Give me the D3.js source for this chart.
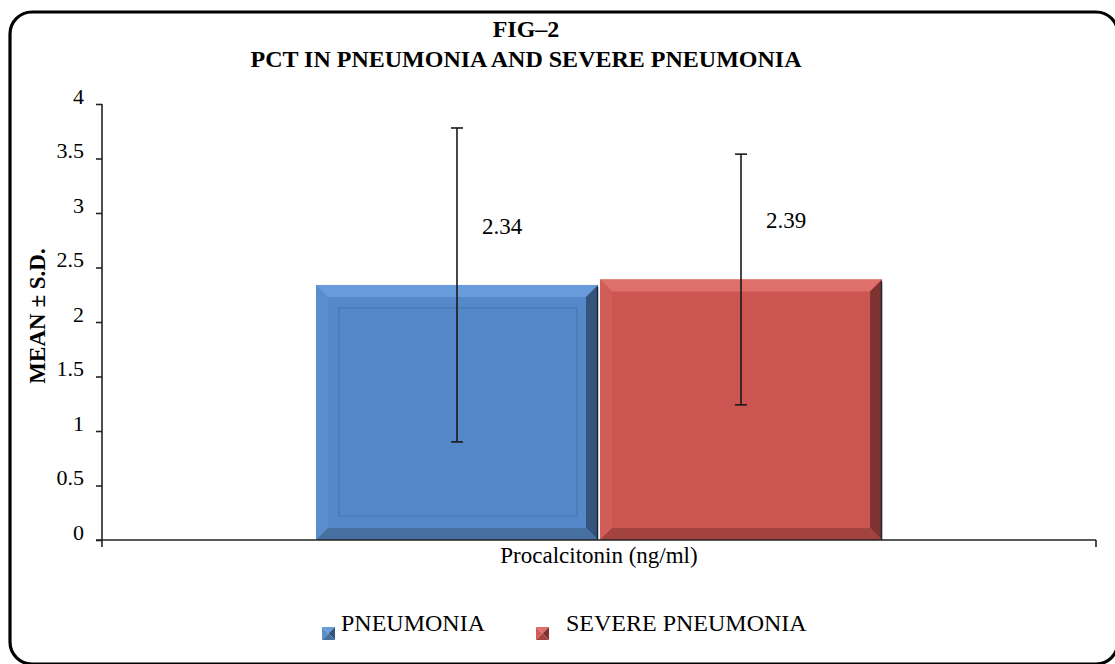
<!DOCTYPE html>
<html>
<head>
<meta charset="utf-8">
<script src="https://cdn.jsdelivr.net/npm/d3@7/dist/d3.min.js"></script>
<style>
  html, body { margin: 0; padding: 0; background: #fff; }
  svg { display: block; font-family: 'Liberation Serif', 'Times New Roman', serif; }
</style>
</head>
<body>
<svg id="chart" width="1115" height="664"></svg>
<script>
// data
const categories = ['Procalcitonin (ng/ml)']
const seriesNames = ['PNEUMONIA', 'SEVERE PNEUMONIA']
const means = [2.34, 2.39]
const sds = [1.44, 1.15]
const yTicks = [0, 0.5, 1, 1.5, 2, 2.5, 3, 3.5, 4]
const titleLines = ['FIG\u20132', 'PCT IN PNEUMONIA AND SEVERE PNEUMONIA']
const yTitle = 'MEAN \u00b1 S.D.'

const plot = { left: 102, right: 1096, top: 104, bottom: 540 }
const FONT = "'Liberation Serif', 'Times New Roman', serif"
const BEVEL = 12

const STYLE = {
  'PNEUMONIA': { fill: '#5588c8', top: '#699cda', left: '#5b8ecd', right: '#34547c', bottom: '#46709f', inner: true },
  'SEVERE PNEUMONIA': { fill: '#cb5651', top: '#df6f6a', left: '#d15d58', right: '#7e3330', bottom: '#a2433f', inner: false }
}

const rows = seriesNames.map((name, i) => ({ name, mean: means[i], sd: sds[i], cat: categories[0] }))

const svg = d3.select('#chart')

// rounded frame, running off the right and bottom edges
svg.append('rect')
  .attr('x', 10).attr('y', 12)
  .attr('width', 1108).attr('height', 652)
  .attr('rx', 22).attr('ry', 22)
  .attr('fill', 'none')
  .attr('stroke', '#000')
  .attr('stroke-width', 3.2)

// title
svg.append('g')
  .selectAll('text')
  .data(titleLines)
  .join('text')
  .attr('x', 526)
  .attr('y', (d, i) => 37 + i * 30)
  .attr('text-anchor', 'middle')
  .style('font-family', FONT)
  .style('font-weight', 'bold')
  .style('font-size', '24px')
  .text(d => d)

const x0 = d3.scaleBand()
  .domain(categories)
  .range([plot.left, plot.right])
  .paddingInner(0)
  .paddingOuter(0.378)
const x1 = d3.scaleBand()
  .domain(seriesNames)
  .range([0, x0.bandwidth()])
  .paddingInner(0.007)
const y = d3.scaleLinear()
  .domain([0, 4])
  .range([plot.bottom, plot.top])

// y axis
const gy = svg.append('g')
  .attr('transform', `translate(${plot.left},0)`)
  .call(d3.axisLeft(y).tickValues(yTicks).tickSize(6).tickPadding(12).tickFormat(d3.format('')))
gy.select('.domain').remove()
gy.selectAll('.tick line').attr('stroke', '#222').attr('stroke-width', 1.6)
gy.selectAll('.tick text')
  .attr('dy', '0.32em')
  .attr('transform', 'translate(0,-8)')
  .style('font-family', FONT)
  .style('font-size', '22px')
  .attr('fill', '#000')

// bars
const bars = svg.append('g')
  .selectAll('g')
  .data(rows)
  .join('g')
  .attr('transform', d => `translate(${x0(d.cat) + x1(d.name)},${y(d.mean)})`)

bars.each(function (d) {
  const g = d3.select(this)
  const w = x1.bandwidth()
  const h = y(0) - y(d.mean)
  const s = STYLE[d.name]
  const b = BEVEL
  g.append('rect').attr('width', w).attr('height', h).attr('fill', s.fill)
  const faces = [
    { pts: [[0, 0], [w, 0], [w - b, b], [b, b]], c: s.top },
    { pts: [[0, 0], [b, b], [b, h - b], [0, h]], c: s.left },
    { pts: [[w, 0], [w, h], [w - b, h - b], [w - b, b]], c: s.right },
    { pts: [[0, h], [b, h - b], [w - b, h - b], [w, h]], c: s.bottom }
  ]
  g.selectAll('polygon')
    .data(faces)
    .join('polygon')
    .attr('points', f => f.pts.map(p => p.join(',')).join(' '))
    .attr('fill', f => f.c)
  if (s.inner) {
    g.append('rect')
      .attr('x', 23).attr('y', 23)
      .attr('width', w - 44).attr('height', h - 47)
      .attr('fill', 'none')
      .attr('stroke', d3.color(s.fill).darker(0.3))
      .attr('stroke-width', 1.5)
  }
  g.append('line')
    .attr('x1', w - 0.5).attr('x2', w - 0.5)
    .attr('y1', 2).attr('y2', h)
    .attr('stroke', '#1d2636').attr('stroke-width', 1.5)
})

// error bars
const err = svg.append('g')
  .selectAll('g')
  .data(rows)
  .join('g')
  .attr('transform', d => `translate(${x0(d.cat) + x1(d.name) + x1.bandwidth() / 2},0)`)
  .attr('stroke', '#1a1a1a')
  .attr('stroke-width', 1.6)
err.append('line')
  .attr('y1', d => y(d.mean + d.sd))
  .attr('y2', d => y(d.mean - d.sd))
err.append('line')
  .attr('x1', -6).attr('x2', 6)
  .attr('y1', d => y(d.mean + d.sd)).attr('y2', d => y(d.mean + d.sd))
err.append('line')
  .attr('x1', -6).attr('x2', 6)
  .attr('y1', d => y(d.mean - d.sd)).attr('y2', d => y(d.mean - d.sd))

// value labels
svg.append('g')
  .selectAll('text')
  .data(rows)
  .join('text')
  .attr('x', d => x0(d.cat) + x1(d.name) + x1.bandwidth() / 2 + 25)
  .attr('y', d => y(d.mean) - 51)
  .style('font-family', FONT)
  .style('font-size', '23px')
  .text(d => d3.format('.2f')(d.mean))

// axis lines
const axes = svg.append('g').attr('stroke', '#222').attr('stroke-width', 1.6)
axes.append('line')
  .attr('x1', plot.left).attr('x2', plot.left)
  .attr('y1', plot.top).attr('y2', plot.bottom + 7)
axes.append('line')
  .attr('x1', plot.left - 6).attr('x2', plot.right)
  .attr('y1', plot.bottom).attr('y2', plot.bottom)
axes.append('line')
  .attr('x1', plot.right).attr('x2', plot.right)
  .attr('y1', plot.bottom).attr('y2', plot.bottom + 7)

// category label
svg.append('text')
  .attr('x', x0(categories[0]) + x0.bandwidth() / 2)
  .attr('y', 563)
  .attr('text-anchor', 'middle')
  .style('font-family', FONT)
  .style('font-size', '23px')
  .text(categories[0])

// y title
svg.append('text')
  .attr('transform', 'translate(45,316) rotate(-90)')
  .attr('text-anchor', 'middle')
  .style('font-family', FONT)
  .style('font-weight', 'bold')
  .style('font-size', '23px')
  .text(yTitle)

// legend
const legendX = [322, 536]
const textGap = [19, 30]
const legend = svg.append('g')
  .selectAll('g')
  .data(seriesNames)
  .join('g')
  .attr('transform', (d, i) => `translate(${legendX[i]},627)`)
legend.each(function (d) {
  const g = d3.select(this)
  const s = STYLE[d]
  const k = 13
  const c = k / 2
  const tri = [
    { pts: [[0, 0], [k, 0], [c, c]], col: s.top },
    { pts: [[0, 0], [c, c], [0, k]], col: s.left },
    { pts: [[k, 0], [k, k], [c, c]], col: s.right },
    { pts: [[0, k], [c, c], [k, k]], col: s.bottom }
  ]
  g.selectAll('polygon')
    .data(tri)
    .join('polygon')
    .attr('points', t => t.pts.map(p => p.join(',')).join(' '))
    .attr('fill', t => t.col)
})
legend.append('text')
  .attr('x', (d, i) => textGap[i])
  .attr('y', 4)
  .style('font-family', FONT)
  .style('font-size', '24px')
  .text(d => d)
</script>
</body>
</html>
